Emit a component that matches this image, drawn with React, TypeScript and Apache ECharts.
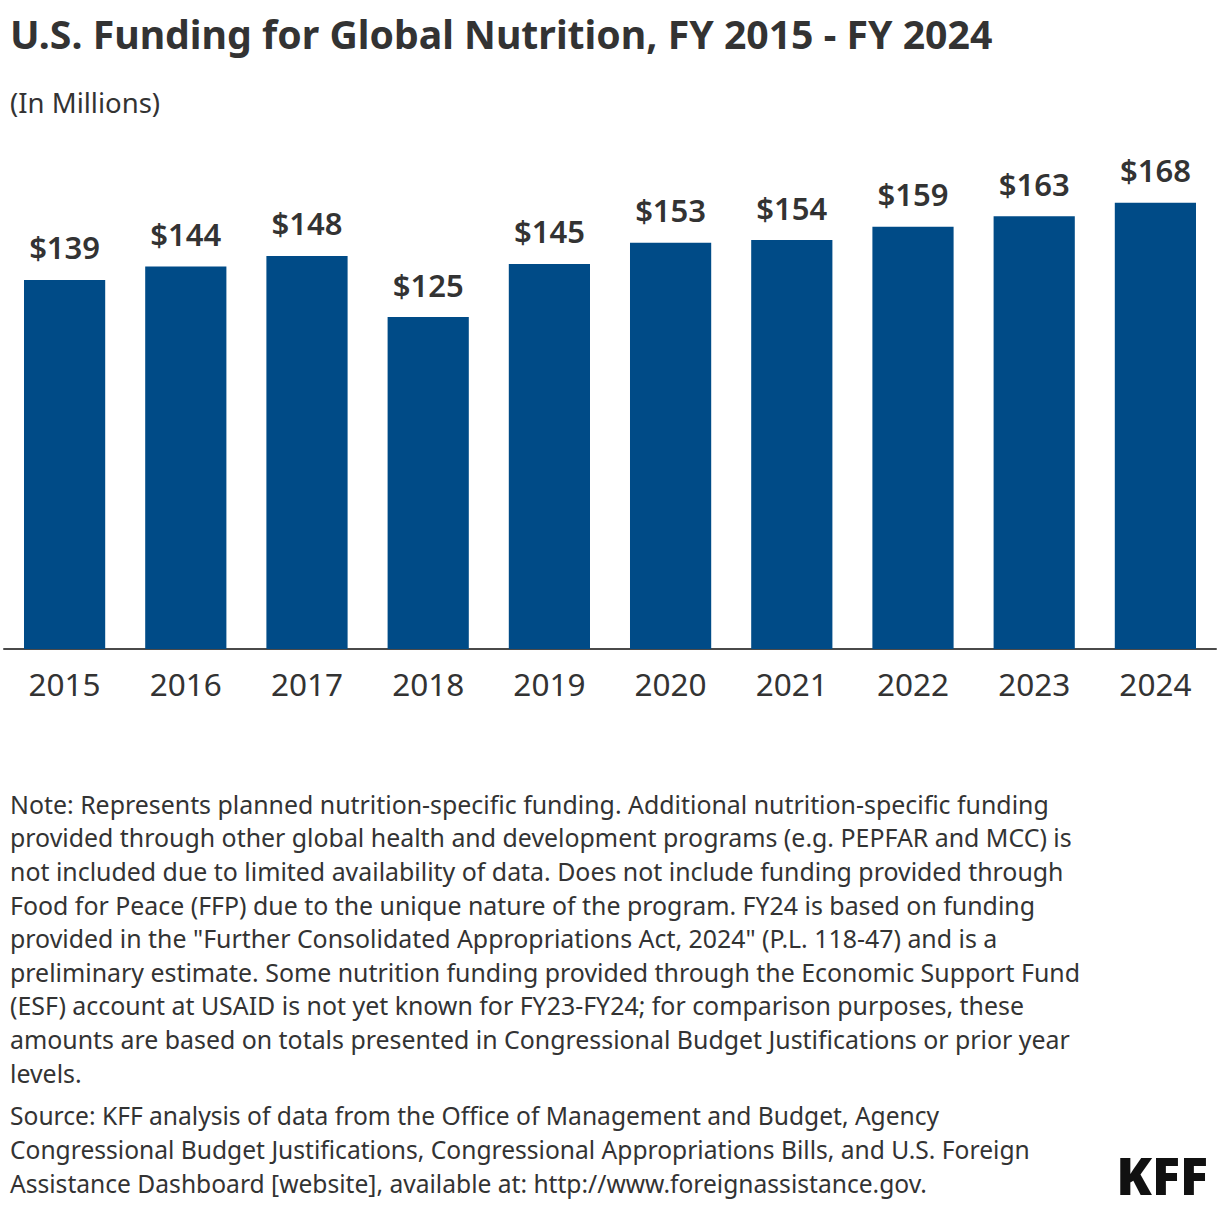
import React, { useEffect, useRef } from "react";
import * as echarts from "echarts";

const years = ["2015", "2016", "2017", "2018", "2019", "2020", "2021", "2022", "2023", "2024"];
const funding = [139, 144, 148, 125, 145, 153, 154, 159, 163, 168];

const titleText = "U.S. Funding for Global Nutrition, FY 2015 - FY 2024";
const subtitleText = "(In Millions)";
const noteLines = [
  "Note: Represents planned nutrition-specific funding. Additional nutrition-specific funding",
  "provided through other global health and development programs (e.g. PEPFAR and MCC) is",
  "not included due to limited availability of data. Does not include funding provided through",
  "Food for Peace (FFP) due to the unique nature of the program. FY24 is based on funding",
  "provided in the \"Further Consolidated Appropriations Act, 2024\" (P.L. 118-47) and is a",
  "preliminary estimate. Some nutrition funding provided through the Economic Support Fund",
  "(ESF) account at USAID is not yet known for FY23-FY24; for comparison purposes, these",
  "amounts are based on totals presented in Congressional Budget Justifications or prior year",
  "levels.",
];
const sourceLines = [
  "Source: KFF analysis of data from the Office of Management and Budget, Agency",
  "Congressional Budget Justifications, Congressional Appropriations Bills, and U.S. Foreign",
  "Assistance Dashboard [website], available at: http://www.foreignassistance.gov.",
];

const FONT = "'Noto Sans', Lato, sans-serif";
const TEXT = "#333333";
const BAR = "#004b87";

export default function App() {
  const ref = useRef<HTMLDivElement>(null);
  useEffect(() => {
    if (!ref.current) return;
    const chart = echarts.init(ref.current, null, { renderer: "svg" });
    chart.setOption({
      animation: false,
      backgroundColor: "#ffffff",
      textStyle: { fontFamily: FONT },
      grid: { left: 4, right: 4, top: 171, bottom: 563, containLabel: false },
      xAxis: {
        type: "category",
        data: years,
        axisLine: { show: true, lineStyle: { color: "#4a4a4a", width: 2 } },
        axisTick: { show: false },
        axisLabel: { color: TEXT, fontSize: 31.5, fontFamily: FONT, margin: 18 },
      },
      yAxis: { type: "value", min: 0, max: 180, show: false, splitLine: { show: false } },
      series: [
        {
          type: "bar",
          data: funding,
          barCategoryGap: "33%",
          itemStyle: { color: BAR },
          label: {
            show: true,
            position: "top",
            distance: 17,
            formatter: (p: any) => "$" + p.value,
            color: TEXT,
            fontSize: 31,
            fontWeight: 600,
            fontFamily: FONT,
          },
        },
      ],
      graphic: [
        {
          type: "text",
          left: 10,
          top: 14,
          style: { text: titleText, fontSize: 39.2, fontWeight: "bold", fill: TEXT, fontFamily: FONT },
        },
        {
          type: "text",
          left: 10,
          top: 88,
          style: { text: subtitleText, fontSize: 27.5, fill: TEXT, fontFamily: FONT },
        },
        {
          type: "text",
          left: 10,
          top: 787,
          style: { text: noteLines.join("\n"), fontSize: 24.9, lineHeight: 33.6, fill: TEXT, fontFamily: FONT },
        },
        {
          type: "text",
          left: 10,
          top: 1099,
          style: { text: sourceLines.join("\n"), fontSize: 24.6, lineHeight: 33.6, fill: TEXT, fontFamily: FONT },
        },
        {
          type: "text",
          right: 12,
          top: 1148,
          style: { text: "KFF", fontSize: 52, fontWeight: 900, fill: "#111111", fontFamily: FONT },
        },
      ],
    });
    return () => chart.dispose();
  }, []);
  return (
    <div
      ref={ref}
      style={{ position: "absolute", left: 0, top: 0, width: 1220, height: 1212 }}
    />
  );
}
